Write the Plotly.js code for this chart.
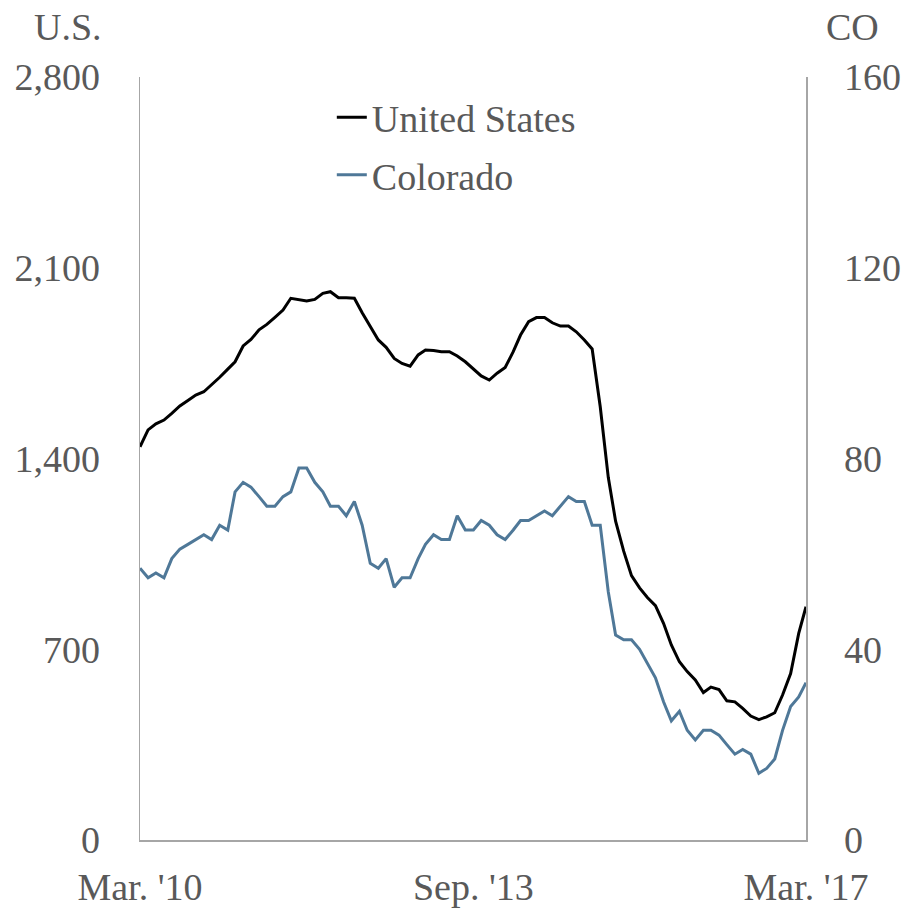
<!DOCTYPE html>
<html>
<head>
<meta charset="utf-8">
<script src="https://cdn.plot.ly/plotly-3.0.1.min.js"></script>
<style>html,body{margin:0;padding:0;background:#fff;}#chart{width:906px;height:910px;}</style>
</head>
<body>
<div id="chart"></div>
<script>
// Monthly rig counts, Mar 2010 - Mar 2017
const startYear = 2010, startMonth = 3;
const usRigs = [1443,1505,1527,1541,1566,1593,1613,1633,1645,1670,
  1698,1728,1755,1813,1837,1872,1892,1918,1945,1988,
  1982,1978,1984,2006,2012,1990,1990,1988,1935,1884,
  1835,1808,1767,1749,1739,1780,1798,1796,1792,1792,
  1776,1755,1728,1703,1688,1713,1734,1792,1853,1902,
  1917,1917,1898,1886,1886,1865,1835,1802,1590,1330,
  1170,1060,970,925,890,860,795,716,654,618,
  587,541,561,552,511,507,483,455,442,452,
  467,532,611,758,856];
const coRigs = [57,55,56,55,59,61,62,63,64,63,
  66,65,73,75,74,72,70,70,72,73,
  78,78,75,73,70,70,68,71,66,58,
  57,59,53,55,55,59,62,64,63,63,
  68,65,65,67,66,64,63,65,67,67,
  68,69,68,70,72,71,71,66,66,52,
  43,42,42,40,37,34,29,25,27,23,
  21,23,23,22,20,18,19,18,14,15,
  17,23,28,30,33];
const xTickVals = ['2010-03-01','2013-09-01','2017-03-01'];
const xTickText = ["Mar. '10","Sep. '13","Mar. '17"];
const usTicks = [0,700,1400,2100,2800];
const coTicks = [0,40,80,120,160];

const months = usRigs.map((_, i) => {
  const m0 = startMonth - 1 + i;
  const y = startYear + Math.floor(m0 / 12);
  const m = (m0 % 12) + 1;
  return y + '-' + String(m).padStart(2, '0') + '-01';
});

const FONT = 'Liberation Serif, Times New Roman, serif';
const GREY = '#595959';
const AXIS = '#a6a6a6';
const FS = 38;

const traces = [
  {x: months, y: usRigs, type: 'scatter', mode: 'lines', name: 'United States',
   line: {color: '#000000', width: 3}, yaxis: 'y', legendgroup: 'a'},
  {x: months, y: coRigs, type: 'scatter', mode: 'lines', name: 'Colorado',
   line: {color: '#4f7898', width: 3}, yaxis: 'y2', legendgroup: 'b'}
];

const layout = {
  width: 906, height: 910,
  margin: {l: 140, r: 100, t: 77, b: 70},
  paper_bgcolor: '#fff', plot_bgcolor: '#fff',
  font: {family: FONT, size: FS, color: GREY},
  showlegend: true,
  legend: {x: 0.288, y: 0.988, xanchor: 'left', yanchor: 'top',
    bgcolor: 'rgba(0,0,0,0)', tracegroupgap: 5,
    font: {family: FONT, size: FS, color: GREY}},
  xaxis: {type: 'date', range: ['2010-03-01', '2017-03-01'],
    tickvals: xTickVals, ticktext: xTickText, ticks: '',
    showline: true, linecolor: AXIS, linewidth: 1.5, mirror: false,
    showgrid: false, zeroline: false, ticklabelstandoff: 13,
    tickfont: {family: FONT, size: FS, color: GREY}},
  yaxis: {range: [0, 2800], tickvals: usTicks, tickformat: ',d', ticks: '',
    showline: true, linecolor: AXIS, linewidth: 1.5,
    showgrid: false, zeroline: false, ticklabelstandoff: 31,
    tickfont: {family: FONT, size: FS, color: GREY}},
  yaxis2: {range: [0, 160], tickvals: coTicks, overlaying: 'y', side: 'right',
    ticks: '', showline: true, linecolor: AXIS, linewidth: 1.5,
    showgrid: false, zeroline: false, ticklabelstandoff: 29,
    tickfont: {family: FONT, size: FS, color: GREY}},
  annotations: [
    {text: 'U.S.', xref: 'paper', yref: 'paper', x: -0.108, y: 1.065,
     xanchor: 'center', yanchor: 'middle', showarrow: false,
     font: {family: FONT, size: FS, color: GREY}},
    {text: 'CO', xref: 'paper', yref: 'paper', x: 1.07, y: 1.065,
     xanchor: 'center', yanchor: 'middle', showarrow: false,
     font: {family: FONT, size: FS, color: GREY}}
  ]
};

Plotly.newPlot('chart', traces, layout, {displayModeBar: false, staticPlot: true});
</script>
</body>
</html>
